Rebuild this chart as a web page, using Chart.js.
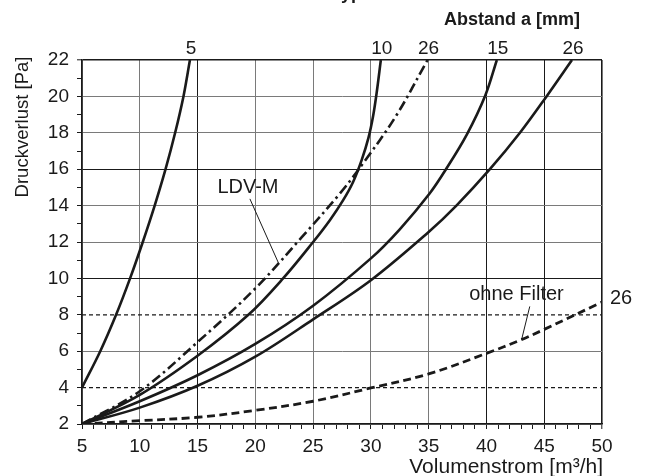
<!DOCTYPE html>
<html>
<head>
<meta charset="utf-8">
<script src="https://cdn.jsdelivr.net/npm/chart.js@4.4.1/dist/chart.umd.min.js"></script>
<style>
html,body{margin:0;padding:0;background:#fff;}
#wrap{width:646px;height:476px;position:relative;}
</style>
</head>
<body>
<div id="wrap"><canvas id="c" width="646" height="476"></canvas></div>
<script>
// ---------- data ----------
const curve5_x  = [5, 6.58, 7.95, 9.16, 10.26, 11.29, 12.23, 13.06, 13.78, 14.34];
const curve5_y  = [4, 6, 8, 10, 12, 14, 16, 18, 20, 22];

const curve10_x = [5, 10, 15, 19.4, 22.4, 25, 26.45, 27.6, 28.46, 29.2, 29.8, 30.2, 30.5, 30.86];
const curve10_y = [2, 3.6, 5.75, 8, 10, 12, 13.2, 14.3, 15.3, 16.5, 17.75, 18.95, 20.2, 22];

const ldvm26_x  = [5, 10, 15, 20, 24, 27.3, 29.3, 32.2, 34.9];
const ldvm26_y  = [2, 3.8, 6.5, 9.45, 12.25, 14.65, 16.3, 18.95, 22];

const curve15_x = [5, 10, 15, 20, 25, 30, 32.5, 35.1, 36.55, 38.3, 39.9, 40.9];
const curve15_y = [2, 3.25, 4.68, 6.4, 8.5, 11.1, 12.7, 14.68, 16.05, 17.9, 20.05, 22];

const curve26_x = [5, 10, 15, 20, 25, 30, 35, 37.4, 40.3, 42.9, 45.2, 47.4];
const curve26_y = [2, 2.9, 4.1, 5.7, 7.75, 9.9, 12.55, 14, 16, 18, 20, 22];

const noFilter_x = [5, 10, 15, 20, 25, 30, 35, 40, 43, 45, 50];
const noFilter_y = [2, 2.18, 2.37, 2.75, 3.25, 3.98, 4.75, 5.88, 6.63, 7.2, 8.7];

const refLinesY = [4, 8];               // dashed horizontal lines
const topLabels = ['5', '10', '26', '15', '26'];   // Abstand a [mm]
const sideLabel = '26';
const xRange = [5, 50];
const yRange = [2, 22];
const xLabelStep = 5;
const yLabelStep = 2;

const txtTitle = 'Filtertyp';
const txtAbstand = 'Abstand a [mm]';
const txtYAxis = 'Druckverlust [Pa]';
const txtXAxis = 'Volumenstrom [m³/h]';
const txtLDV = 'LDV-M';
const txtOhne = 'ohne Filter';

// annotation anchors in data units
const ldvLabelAt   = [19.36, 15.0];
const ldvLeader    = [[19.53, 14.37], [22.0, 10.85]];
const ohneLabelAt  = [42.6, 9.1];
const ohneLeader   = [[43.75, 8.46], [43.04, 6.63]];

// ---------- styles ----------
const FONT = '"Liberation Sans", Arial, Helvetica, sans-serif';
const INK = '#1a1a1a';
const darkX = [15, 40, 45, 50];
const darkY = [10, 16, 22];

const pts = (xs, ys) => xs.map((v, i) => ({x: v, y: ys[i]}));

const curveStyle = {
  borderColor: INK, borderWidth: 2.6, pointRadius: 0, fill: false,
  tension: 0.35, borderCapStyle: 'butt'
};

const datasets = [
  Object.assign({label: 'a=5',  data: pts(curve5_x, curve5_y)}, curveStyle),
  Object.assign({label: 'a=10', data: pts(curve10_x, curve10_y)}, curveStyle),
  Object.assign({label: 'LDV-M a=26', data: pts(ldvm26_x, ldvm26_y)}, curveStyle, {borderDash: [10, 4, 2.5, 4]}),
  Object.assign({label: 'a=15', data: pts(curve15_x, curve15_y)}, curveStyle),
  Object.assign({label: 'a=26', data: pts(curve26_x, curve26_y)}, curveStyle),
  Object.assign({label: 'ohne Filter a=26', data: pts(noFilter_x, noFilter_y)}, curveStyle, {borderDash: [8, 4.5], borderWidth: 2.8}),
];
refLinesY.forEach(v => datasets.push({
  label: 'ref' + v, data: [{x: xRange[0], y: v}, {x: xRange[1], y: v}],
  borderColor: INK, borderWidth: 1.2, borderDash: [4, 3], pointRadius: 0, fill: false, tension: 0
}));

const labelSeries = [
  [curve5_x, curve5_y], [curve10_x, curve10_y], [ldvm26_x, ldvm26_y],
  [curve15_x, curve15_y], [curve26_x, curve26_y]
];

const annot = {
  id: 'annot',
  afterDraw(chart) {
    const {ctx} = chart;
    const xs = chart.scales.x, ys = chart.scales.y;
    const px = v => xs.getPixelForValue(v), py = v => ys.getPixelForValue(v);
    ctx.save();
    ctx.fillStyle = INK;
    ctx.strokeStyle = INK;

    // partially visible title
    ctx.font = `bold 18px ${FONT}`;
    ctx.textAlign = 'right'; ctx.textBaseline = 'alphabetic';
    ctx.fillText(txtTitle, 362, -1);

    // Abstand a [mm]
    ctx.font = `bold 18px ${FONT}`;
    ctx.textAlign = 'center';
    ctx.fillText(txtAbstand, 512, 25);

    // labels above curve ends
    ctx.font = `19px ${FONT}`;
    labelSeries.forEach((s, i) => {
      const xv = s[0][s[0].length - 1];
      ctx.fillText(topLabels[i], px(xv) + 1, chart.chartArea.top - 6.5);
    });

    // 26 right of dashed curve end
    ctx.textAlign = 'left'; ctx.textBaseline = 'middle';
    ctx.font = `20px ${FONT}`;
    ctx.fillText(sideLabel, px(noFilter_x[noFilter_x.length - 1]) + 8,
                 py(noFilter_y[noFilter_y.length - 1]) - 4);

    // LDV-M / ohne Filter
    ctx.textAlign = 'center';
    ctx.fillText(txtLDV, px(ldvLabelAt[0]), py(ldvLabelAt[1]));
    ctx.fillText(txtOhne, px(ohneLabelAt[0]), py(ohneLabelAt[1]));

    ctx.lineWidth = 1;
    [ldvLeader, ohneLeader].forEach(l => {
      ctx.beginPath();
      ctx.moveTo(px(l[0][0]), py(l[0][1]));
      ctx.lineTo(px(l[1][0]), py(l[1][1]));
      ctx.stroke();
    });

    // axis titles
    ctx.font = `21px ${FONT}`;
    ctx.textAlign = 'right'; ctx.textBaseline = 'alphabetic';
    ctx.fillText(txtXAxis, chart.chartArea.right + 1, 472.5);
    ctx.save();
    ctx.translate(23, 127);
    ctx.rotate(-Math.PI / 2);
    ctx.font = `18.5px ${FONT}`;
    ctx.textAlign = 'center'; ctx.textBaseline = 'middle';
    ctx.fillText(txtYAxis, 0, 0);
    ctx.restore();

    ctx.restore();
  }
};

new Chart(document.getElementById('c'), {
  type: 'line',
  data: {datasets},
  options: {
    responsive: false,
    animation: false,
    devicePixelRatio: 1,
    layout: {padding: {top: 60, right: 44, left: 0, bottom: 0}},
    plugins: {legend: {display: false}, tooltip: {enabled: false}, title: {display: false}},
    scales: {
      x: {
        type: 'linear', min: xRange[0], max: xRange[1],
        afterFit(s) { s.height = 52; },
        ticks: {
          stepSize: 1, autoSkip: false, maxRotation: 0, maxTicksLimit: 200, padding: 6,
          color: INK, font: {family: FONT, size: 19},
          callback: v => (v % xLabelStep === 0 ? String(v) : '')
        },
        grid: {
          color: c => {
            const v = c.tick ? c.tick.value : null;
            if (v === null || v % xLabelStep !== 0) return 'rgba(0,0,0,0)';
            return darkX.includes(v) ? INK : '#7a7a7a';
          },
          lineWidth: c => (c.tick && c.tick.value === xRange[1] ? 1.6 : 1),
          tickColor: INK, tickLength: 5, tickWidth: 1, drawTicks: true
        },
        border: {color: INK, width: 1.6}
      },
      y: {
        type: 'linear', min: yRange[0], max: yRange[1],
        afterFit(s) { s.width = 82; },
        ticks: {
          stepSize: 1, autoSkip: false, maxTicksLimit: 200, padding: 8,
          color: INK, font: {family: FONT, size: 19},
          callback: v => (v % yLabelStep === 0 ? String(v) : '')
        },
        grid: {
          color: c => {
            const v = c.tick ? c.tick.value : null;
            if (v === null || v % yLabelStep !== 0 || refLinesY.includes(v)) return 'rgba(0,0,0,0)';
            return darkY.includes(v) ? INK : '#7a7a7a';
          },
          lineWidth: c => (c.tick && c.tick.value === yRange[1] ? 1.6 : 1),
          tickColor: INK, tickLength: 5, tickWidth: 1, drawTicks: true
        },
        border: {color: INK, width: 1.6}
      }
    }
  },
  plugins: [annot]
});
</script>
</body>
</html>
